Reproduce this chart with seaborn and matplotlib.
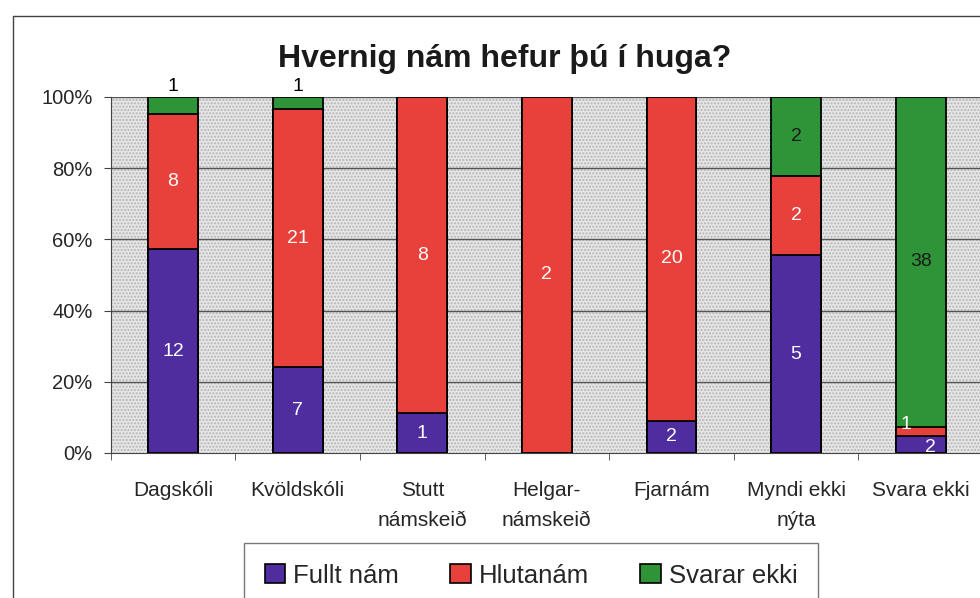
import pandas as pd
import seaborn as sns
import matplotlib.pyplot as plt
from matplotlib.patches import Rectangle, Patch
from matplotlib.lines import Line2D

# data (counts per answer)
categories = ["Dagskóli", "Kvöldskóli", "Stutt\nnámskeið", "Helgar-\nnámskeið",
              "Fjarnám", "Myndi ekki\nnýta", "Svara ekki"]
fullt_nam = [12, 7, 1, 0, 2, 5, 2]
hlutanam = [8, 21, 8, 2, 20, 2, 1]
svarar_ekki = [1, 1, 0, 0, 0, 2, 38]
series_names = ["Fullt nám", "Hlutanám", "Svarar ekki"]
colors = ["#4f2d9e", "#e8403a", "#2f9437"]

sns.set_style("white")
plt.rcParams["font.family"] = ["Liberation Sans", "DejaVu Sans"]

df = pd.DataFrame({"cat": categories, "Fullt nám": fullt_nam,
                   "Hlutanám": hlutanam, "Svarar ekki": svarar_ekki})
total = df[series_names].sum(axis=1)
pct = df[series_names].div(total, axis=0) * 100
cum = pct.cumsum(axis=1)

fig = plt.figure(figsize=(9.8, 5.98), dpi=100)
ax = fig.add_axes([0.113, 0.2425, 0.89, 0.5955])

# stippled grey plot background
ax.set_facecolor("#e6e6e6")
ax.add_patch(Rectangle((0, 0), 1, 1, transform=ax.transAxes, facecolor="none",
                       hatch=".....", edgecolor="#b4b4b4", linewidth=0, zorder=0))

for v in [20, 40, 60, 80, 100]:
    ax.axhline(v, color="#555555", lw=1, zorder=0.5)

# layered bars: draw cumulative tops from the top series down
for i in [2, 1, 0]:
    sns.barplot(x=df["cat"], y=cum[series_names[i]], order=categories, color=colors[i],
                width=0.4, edgecolor="black", linewidth=1.3, saturation=1, ax=ax, zorder=2)

# value labels
for j in range(len(categories)):
    for i, name in enumerate(series_names):
        val = df.loc[j, name]
        if val == 0:
            continue
        lo = cum.iloc[j, i] - pct.iloc[j, i]
        y = lo + pct.iloc[j, i] / 2
        x = j
        col = "white" if i < 2 else "#1a1a1a"
        if i == 2 and pct.iloc[j, i] < 8:
            y = 103
            col = "black"
        if j == 6 and i == 0:
            x, y = j + 0.08, 1.5
        if j == 6 and i == 1:
            x, y = j - 0.12, 8
        ax.text(x, y, str(val), ha="center", va="center", fontsize=14, color=col, zorder=3)

ax.set_xlim(-0.5, 6.5)
ax.set_ylim(0, 100)
ax.set_yticks([0, 20, 40, 60, 80, 100])
ax.set_yticklabels([f"{v}%" for v in [0, 20, 40, 60, 80, 100]], fontsize=14.5)
ax.set_xticks(range(len(categories)))
ax.set_xticklabels(categories, fontsize=15, linespacing=1.75)
ax.set_xticks([k + 0.5 for k in range(-1, 7)], minor=True)
ax.tick_params(axis="x", which="major", length=0, pad=20)
ax.tick_params(axis="x", which="minor", length=5, direction="out", color="#444444", bottom=True)
ax.tick_params(axis="y", length=5, direction="out", color="#444444", left=True, pad=8)
ax.set_xlabel("")
ax.set_ylabel("")
for s in ["top", "right"]:
    ax.spines[s].set_visible(False)
ax.spines["left"].set_color("#444444")
ax.spines["bottom"].set_color("#444444")

fig.text(0.515, 0.902, "Hvernig nám hefur þú í huga?", ha="center", va="center",
         fontsize=23, fontweight="bold", color="#1a1a1a")

# legend (box runs off the bottom edge, as in the original)
handles = [Patch(facecolor=c, edgecolor="black", linewidth=1.2) for c in colors]
leg = fig.legend(handles, series_names, loc="upper center", bbox_to_anchor=(0.542, 0.092),
                 ncol=3, fontsize=18.5, frameon=True, fancybox=False, edgecolor="#555555",
                 handlelength=0.8, handleheight=0.8, handletextpad=0.3, columnspacing=2.0,
                 borderpad=0.8, borderaxespad=0)
leg.get_frame().set_linewidth(1)

# outer chart frame
fig.add_artist(Line2D([13 / 980, 13 / 980], [0, 1 - 16 / 598], color="#444444", lw=1))
fig.add_artist(Line2D([13 / 980, 1], [1 - 16 / 598, 1 - 16 / 598], color="#444444", lw=1))

fig.savefig("out.png", dpi=100)
